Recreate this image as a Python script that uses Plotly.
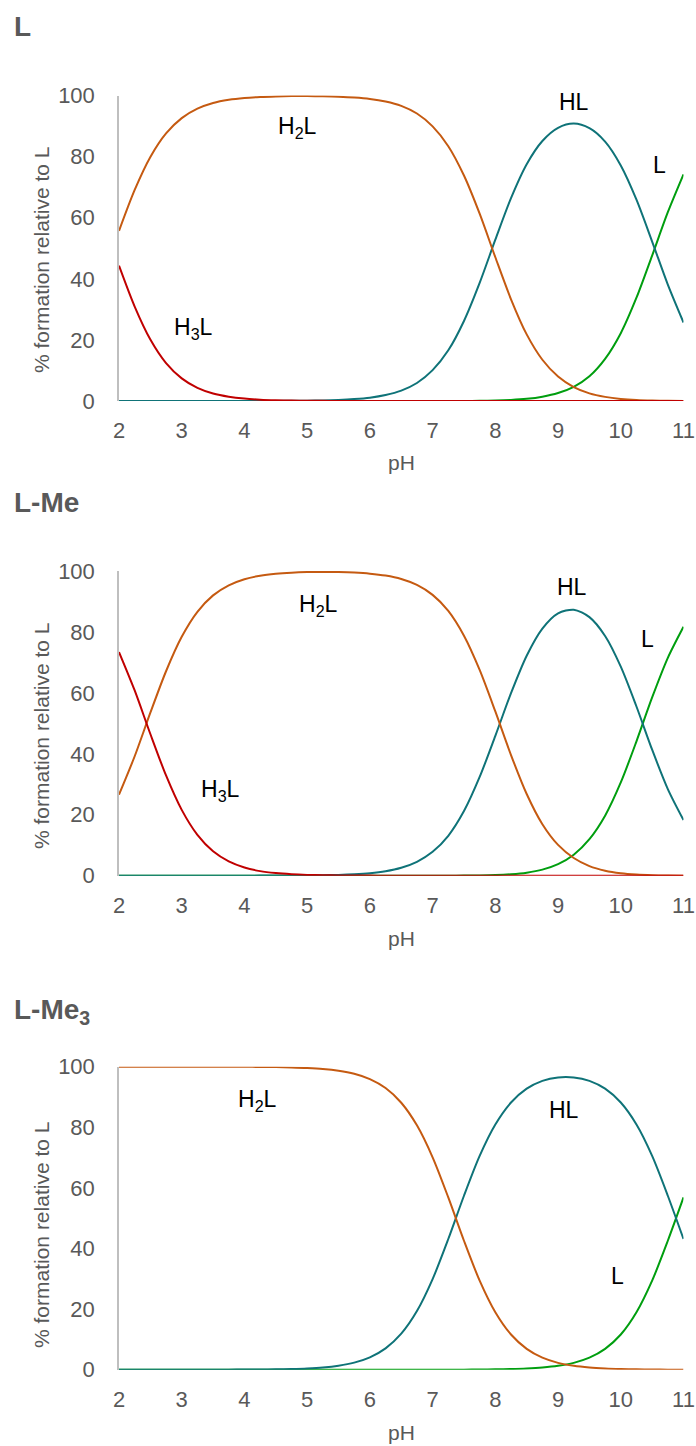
import plotly.graph_objects as go

# ---------------- data ----------------
ph = [2.0, 2.25, 2.5, 2.75, 3.0, 3.25, 3.5, 3.75, 4.0, 4.25, 4.5, 4.75, 5.0, 5.25,
      5.5, 5.75, 6.0, 6.25, 6.5, 6.75, 7.0, 7.25, 7.5, 7.75, 8.0, 8.25, 8.5, 8.75,
      9.0, 9.25, 9.5, 9.75, 10.0, 10.25, 10.5, 10.75, 11.0]

# Panel "L"
L_H3L = [44.3, 30.9, 20.1, 12.4, 7.4, 4.3, 2.45, 1.4, 0.79, 0.45, 0.25, 0.14, 0.08, 0.045,
         0.025, 0.014, 0.008, 0.004, 0.002, 0.001, 0, 0, 0, 0, 0, 0, 0, 0,
         0, 0, 0, 0, 0, 0, 0, 0, 0]
L_H2L = [55.7, 69.1, 79.9, 87.6, 92.6, 95.7, 97.55, 98.6, 99.2, 99.53, 99.71, 99.8, 99.81, 99.75,
         99.62, 99.36, 98.89, 98.04, 96.6, 94.1, 89.9, 83.4, 73.8, 61.3, 47.05, 33.3, 21.8, 13.5,
         8.0, 4.55, 2.5, 1.35, 0.69, 0.33, 0.15, 0.06, 0.02]
L_HL = [0, 0, 0, 0, 0, 0, 0, 0, 0.01, 0.02, 0.04, 0.06, 0.11, 0.2,
        0.35, 0.63, 1.1, 1.96, 3.4, 5.9, 10.1, 16.6, 26.2, 38.65, 52.8, 66.4, 77.5, 85.1,
        89.4, 90.8, 89.3, 84.9, 77.1, 65.9, 52.2, 38.1, 25.7]
L_L = [0, 0, 0, 0, 0, 0, 0, 0, 0, 0, 0, 0, 0, 0,
       0, 0, 0, 0, 0, 0, 0, 0.01, 0.02, 0.06, 0.15, 0.34, 0.7, 1.4,
       2.6, 4.64, 8.1, 13.8, 22.2, 33.8, 47.6, 61.8, 74.2]

# Panel "L-Me"
Me_H3L = [73.4, 60.8, 46.5, 32.9, 21.6, 13.4, 8.0, 4.7, 2.7, 1.5, 0.86, 0.49, 0.27, 0.15,
          0.09, 0.05, 0.03, 0.02, 0.01, 0, 0, 0, 0, 0, 0, 0, 0, 0,
          0, 0, 0, 0, 0, 0, 0, 0, 0]
Me_H2L = [26.6, 39.2, 53.5, 67.1, 78.4, 86.6, 92.0, 95.3, 97.3, 98.47, 99.11, 99.46, 99.64, 99.7,
          99.64, 99.47, 99.13, 98.5, 97.37, 95.43, 92.16, 86.9, 78.76, 67.52, 53.9, 39.6, 26.8, 16.9,
          10.1, 5.8, 3.15, 1.64, 0.8, 0.37, 0.15, 0.06, 0.02]
Me_HL = [0, 0, 0, 0, 0, 0, 0, 0, 0, 0.03, 0.03, 0.05, 0.09, 0.15,
         0.27, 0.48, 0.84, 1.49, 2.62, 4.57, 7.84, 13.1, 21.2, 32.4, 45.9, 59.9, 72.2, 81.1,
         86.1, 87.3, 84.85, 78.66, 68.6, 55.53, 41.35, 28.44, 18.28]
Me_L = [0, 0, 0, 0, 0, 0, 0, 0, 0, 0, 0, 0, 0, 0,
        0, 0, 0, 0, 0, 0, 0, 0, 0.04, 0.08, 0.2, 0.48, 1.0, 2.0,
        3.8, 6.9, 12.0, 19.7, 30.6, 44.1, 58.5, 71.5, 81.7]

# Panel "L-Me3"
Me3_H2L = [100, 100, 100, 100, 100, 99.99, 99.99, 99.98, 99.96, 99.92, 99.87, 99.76, 99.57, 99.25,
           98.67, 97.66, 95.91, 92.95, 88.11, 80.65, 70.1, 56.86, 42.56, 29.4, 18.97, 11.62, 6.87, 3.97,
           2.26, 1.27, 0.71, 0.39, 0.21, 0.11, 0.05, 0.02, 0.0]
Me3_HL = [0, 0, 0, 0, 0, 0.01, 0.01, 0.02, 0.04, 0.08, 0.13, 0.24, 0.43, 0.75,
          1.33, 2.34, 4.09, 7.05, 11.89, 19.35, 29.9, 43.13, 57.41, 70.55, 80.92, 88.17, 92.74, 95.32,
          96.47, 96.47, 95.32, 92.74, 88.17, 80.92, 70.55, 57.41, 43.13]
Me3_L = [0, 0, 0, 0, 0, 0, 0, 0, 0, 0, 0, 0, 0, 0,
         0, 0, 0, 0, 0, 0, 0, 0, 0.02, 0.05, 0.11, 0.21, 0.39, 0.71,
         1.27, 2.26, 3.97, 6.87, 11.62, 18.97, 29.4, 42.56, 56.86]

panel_titles = ["L", "L-Me", "L-Me<sub>3</sub>"]
x_ticks = [2, 3, 4, 5, 6, 7, 8, 9, 10, 11]
y_ticks = [0, 20, 40, 60, 80, 100]

# species label positions (pH, %)
labels = [
    [("H<sub>2</sub>L", 4.85, 89.4), ("H<sub>3</sub>L", 3.18, 23.6), ("HL", 9.26, 97.9), ("L", 10.61, 77.3)],
    [("H<sub>2</sub>L", 5.18, 88.8), ("H<sub>3</sub>L", 3.62, 28.1), ("HL", 9.23, 94.8), ("L", 10.42, 77.7)],
    [("H<sub>2</sub>L", 4.21, 89.0), ("HL", 9.09, 85.7), ("L", 9.95, 30.9)],
]

# ---------------- styling ----------------
C_H3L = "#C00000"
C_H2L = "#C55A11"
C_HL = "#0F7378"
C_L = "#009E0F"
FONT = "Liberation Sans, Arial, sans-serif"
GREY = "#595959"

W, H = 696, 1446


def fx(px):
    return px / W


def fy(py):
    return 1 - py / H


x_dom = [fx(119), fx(683.5)]
y_doms = [
    [fy(401.0), fy(95.5)],
    [fy(875.7), fy(571.0)],
    [fy(1369.7), fy(1066.7)],
]
title_y = [26, 502, 1012]
ytitle_y = [260, 736, 1235]
ph_y = [463, 938, 1432]

panels = [
    dict(H3L=L_H3L, H2L=L_H2L, HL=L_HL, L=L_L),
    dict(H3L=Me_H3L, H2L=Me_H2L, HL=Me_HL, L=Me_L),
    dict(H3L=None, H2L=Me3_H2L, HL=Me3_HL, L=Me3_L),
]

fig = go.Figure()
annotations = []
for i, p in enumerate(panels):
    n = "" if i == 0 else str(i + 1)
    xa, ya = "x" + n, "y" + n
    order = [("L", C_L), ("HL", C_HL), ("H2L", C_H2L), ("H3L", C_H3L)]
    for key, col in order:
        if p[key] is None:
            continue
        fig.add_trace(go.Scatter(
            x=ph, y=p[key], mode="lines", name=key, xaxis=xa, yaxis=ya,
            line=dict(color=col, width=2, shape="spline", smoothing=0.8),
            cliponaxis=False, showlegend=False, hoverinfo="skip"))
    fig.layout["xaxis" + n] = dict(
        domain=x_dom, anchor=ya, range=[2, 11], tickvals=x_ticks, automargin=False,
        showgrid=False, zeroline=False, showline=False, ticks="",
        ticklabelstandoff=14, tickfont=dict(size=22, color=GREY, family=FONT))
    fig.layout["yaxis" + n] = dict(
        domain=y_doms[i], anchor=xa, range=[0, 100], tickvals=y_ticks, automargin=False,
        showgrid=False, zeroline=False, showline=True, linecolor="#BFBFBF", linewidth=1.5,
        ticks="", ticklabelstandoff=18, tickfont=dict(size=22, color=GREY, family=FONT))
    for txt, lx, ly in labels[i]:
        annotations.append(dict(text=txt, x=lx, y=ly, xref=xa, yref=ya, showarrow=False,
                                font=dict(size=23, color="#000000", family=FONT)))
    annotations.append(dict(text="<b>%s</b>" % panel_titles[i], x=fx(12), y=fy(title_y[i]),
                            xref="paper", yref="paper", xanchor="left", yanchor="middle",
                            showarrow=False, font=dict(size=28, color=GREY, family=FONT)))
    annotations.append(dict(text="% formation relative to L", x=fx(41), y=fy(ytitle_y[i]),
                            xref="paper", yref="paper", textangle=-90, showarrow=False,
                            xanchor="center", yanchor="middle",
                            font=dict(size=21, color=GREY, family=FONT)))
    annotations.append(dict(text="pH", x=fx(401), y=fy(ph_y[i]), xref="paper", yref="paper",
                            showarrow=False, xanchor="center", yanchor="middle",
                            font=dict(size=21, color=GREY, family=FONT)))

fig.update_layout(
    width=W, height=H, margin=dict(l=0, r=0, t=0, b=0, autoexpand=False),
    paper_bgcolor="white", plot_bgcolor="white",
    annotations=annotations, showlegend=False,
    font=dict(family=FONT, color=GREY),
)

fig.write_html(
    "out.html",
    config={"displayModeBar": False},
    post_script="document.body.style.margin='0';document.body.style.overflow='hidden';",
)
